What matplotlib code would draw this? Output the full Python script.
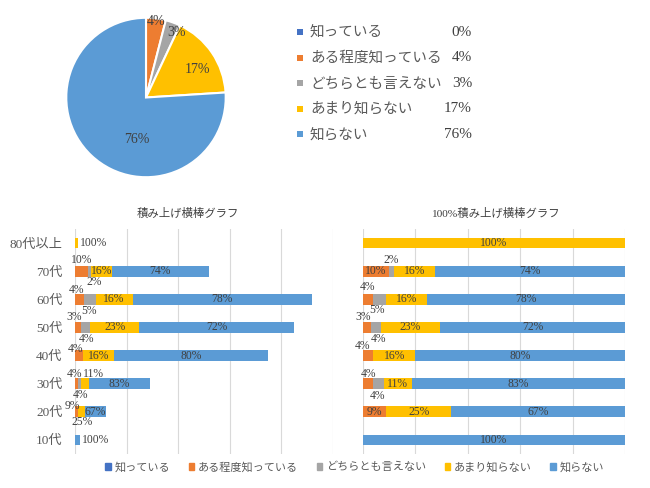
import matplotlib.pyplot as plt
from matplotlib.patches import Patch
import numpy as np

plt.rcParams['font.family'] = ['Noto Sans CJK JP', 'DejaVu Sans']
SERIF = ['Liberation Serif', 'Noto Sans CJK JP']

answers = ['知っている', 'ある程度知っている', 'どちらとも言えない', 'あまり知らない', '知らない']
colors = ['#4472C4', '#ED7D31', '#A5A5A5', '#FFC000', '#5B9BD5']
overall = [0, 4, 3, 17, 76]

ages = ['80代以上', '70代', '60代', '50代', '40代', '30代', '20代', '10代']
counts = [1, 52, 92, 85, 75, 29, 12, 2]
know = [0, 0, 0, 0, 0, 0, 0, 0]
know_some = [0, 10, 4, 3, 4, 4, 9, 0]
neutral = [0, 2, 5, 4, 0, 4, 0, 0]
know_little = [100, 16, 16, 23, 16, 11, 25, 0]
not_know = [0, 74, 78, 72, 80, 83, 67, 100]
series = [know, know_some, neutral, know_little, not_know]

W, H = 650, 488
fig = plt.figure(figsize=(6.5, 4.88), dpi=100)


def px_axes(x0, y0, x1, y1, **kw):
    # pixel box (top-left origin) -> figure fraction
    return fig.add_axes([x0 / W, 1 - y1 / H, (x1 - x0) / W, (y1 - y0) / H], **kw)


# ---- pie ----
axp = px_axes(65.5, 17, 226.5, 178)
wedges, _ = axp.pie(overall, colors=colors, startangle=90, counterclock=False,
                    wedgeprops=dict(edgecolor='white', linewidth=1.5))
axp.set_xlim(-1.01, 1.01)
axp.set_ylim(-1.01, 1.01)
axp.set_aspect('auto')
# (radius, angle shift) for each slice label
pie_lbl = {1: (0.96, 0), 2: (0.9, -5.5), 3: (0.74, -5.5), 4: (0.54, 31)}
for i, w in enumerate(wedges):
    if overall[i] == 0:
        continue
    r, dt = pie_lbl[i]
    th = np.deg2rad((w.theta1 + w.theta2) / 2 + dt)
    axp.text(r * np.cos(th), r * np.sin(th), f'{overall[i]}%', ha='center', va='center',
             fontsize=10, color='#404040', family=SERIF)

# ---- pie legend (overlay in pixel coords) ----
ov = fig.add_axes([0, 0, 1, 1])
ov.set_xlim(0, W)
ov.set_ylim(H, 0)
ov.axis('off')
for i, (name, c) in enumerate(zip(answers, colors)):
    y = 32 + i * 25.6
    ov.scatter(300, y, marker='s', s=14, color=c, linewidths=0)
    ov.text(310, y, name, ha='left', va='center', fontsize=10.5, color='#595959')
    ov.text(472, y, f'{overall[i]}%', ha='right', va='center', fontsize=11,
            color='#404040', family=SERIF)

fig.text(188 / W, 1 - 213 / H, '積み上げ横棒グラフ', ha='center', va='center',
         fontsize=8.2, color='#404040')
fig.text(495 / W, 1 - 213 / H, '100%積み上げ横棒グラフ', ha='center', va='center',
         fontsize=8.2, color='#404040', family=SERIF)

# label offsets in pixels (dx, dy) for crowded small segments
left_off = {(1, 1): (0, 11), (1, 2): (5, -11),
            (2, 1): (-3, 9), (2, 2): (-1, -12),
            (3, 1): (-4, 10), (3, 2): (1, -12),
            (4, 1): (-3, 7),
            (5, 1): (-2, 10), (5, 2): (1, -11), (5, 3): (9, 10),
            (6, 1): (-4, 6), (6, 3): (0, -10)}
right_off = {(1, 2): (0, 11),
             (2, 1): (-1, 12), (2, 2): (-3, -11),
             (3, 1): (-4, 10), (3, 2): (3, -12),
             (4, 1): (-6, 10),
             (5, 1): (0, 10), (5, 2): (-1, -12)}

rows = np.arange(len(ages))
sums = np.sum(series, axis=0)

axl = px_axes(75, 229, 332.5, 454)
axr = px_axes(363, 229, 625, 454)

for ax, scale, offs in [(axl, np.array(counts), left_off),
                        (axr, np.full(len(ages), 100), right_off)]:
    left = np.zeros(len(ages))
    for s, (vals, c) in enumerate(zip(series, colors)):
        vals = np.array(vals, dtype=float)
        widths = vals / sums * scale
        ax.barh(rows, widths, left=left, height=0.38, color=c, zorder=2)
        for r in rows:
            if vals[r] == 0:
                continue
            cx = left[r] + widths[r] / 2
            txt = f'{int(vals[r])}%'
            if ax is axl and vals[r] == 100:
                ax.annotate(txt, (left[r] + widths[r], r), xytext=(2, 0),
                            textcoords='offset pixels', ha='left', va='center',
                            fontsize=8.4, color='#404040', family=SERIF)
                continue
            dx, dy = offs.get((r, s), (0, 0))
            ax.annotate(txt, (cx, r), xytext=(dx, dy), textcoords='offset pixels',
                        ha='center', va='center', fontsize=8.4, color='#404040',
                        family=SERIF, annotation_clip=False)
        left += widths
    ax.set_xlim(0, 100)
    ax.set_ylim(len(ages) - 0.5, -0.5)
    ax.set_xticks(np.arange(0, 101, 20))
    ax.grid(axis='x', color='#D9D9D9', linewidth=0.8, zorder=0)
    ax.set_axisbelow(True)
    for sp in ax.spines.values():
        sp.set_visible(False)
    ax.tick_params(length=0, labelbottom=False)
    ax.patch.set_alpha(0)

axl.set_yticks(rows)
axl.set_yticklabels(ages, fontsize=9.5, color='#595959', family=SERIF)
axl.tick_params(axis='y', pad=9)
axr.set_yticks([])

handles = [Patch(color=c) for c in colors]
fig.legend(handles, answers, loc='center', bbox_to_anchor=(354.5 / W, 1 - 467 / H),
           ncol=5, frameon=False, fontsize=8, handlelength=0.5, handleheight=0.5,
           handletextpad=0.3, columnspacing=1.7, labelcolor='#595959')

fig.savefig('out.png', dpi=100)
